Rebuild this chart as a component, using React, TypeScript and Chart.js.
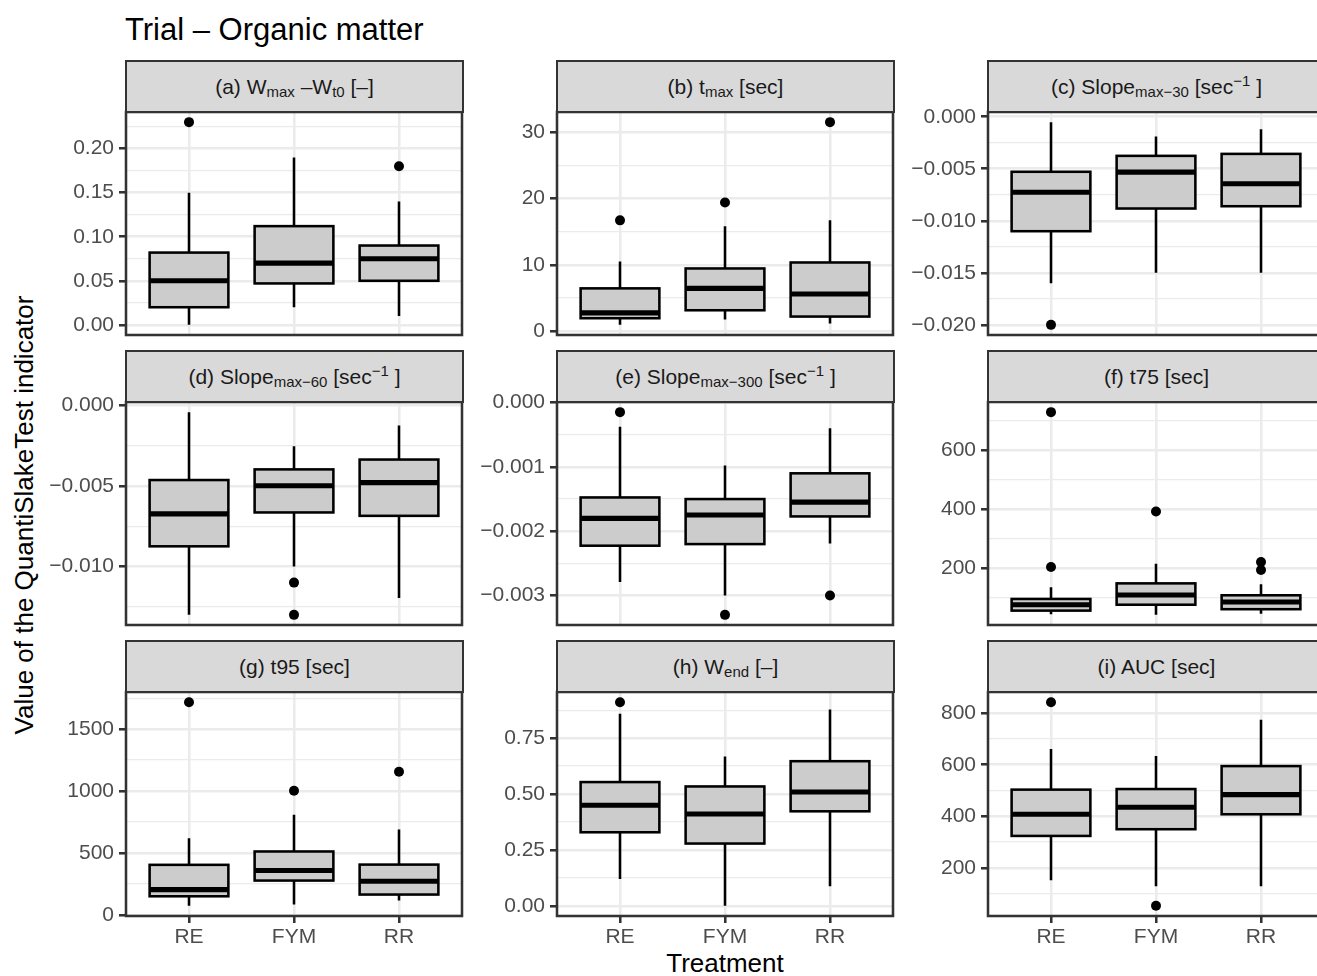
import React, { useEffect, useRef } from 'react';
import { Chart, registerables } from 'chart.js';

Chart.register(...registerables);

const categories = ['RE', 'FYM', 'RR'];

// five-number summaries per treatment: [lower whisker, Q1, median, Q3, upper whisker]
const wmaxStats = [[0.0, 0.02, 0.05, 0.082, 0.15], [0.02, 0.047, 0.07, 0.112, 0.19], [0.01, 0.05, 0.075, 0.09, 0.14]];
const wmaxOutliers = [[0.23], [], [0.18]];
const wmaxTicks = [0, 0.05, 0.1, 0.15, 0.2];

const tmaxStats = [[0.95, 1.95, 2.75, 6.45, 10.5], [1.75, 3.15, 6.45, 9.45, 15.8], [1.15, 2.2, 5.6, 10.35, 16.7]];
const tmaxOutliers = [[16.7], [19.4], [31.5]];
const tmaxTicks = [0, 10, 20, 30];

const slope30Stats = [[-0.016, -0.011, -0.00726, -0.00529, -0.00052], [-0.015, -0.00882, -0.00532, -0.00376, -0.0019], [-0.015, -0.0086, -0.00644, -0.00357, -0.00121]];
const slope30Outliers = [[-0.02], [], []];
const slope30Ticks = [-0.02, -0.015, -0.01, -0.005, 0];

const slope60Stats = [[-0.013, -0.00875, -0.00674, -0.00464, -0.00043], [-0.01, -0.00665, -0.00499, -0.00398, -0.00255], [-0.01195, -0.00686, -0.0048, -0.00337, -0.00126]];
const slope60Outliers = [[], [-0.011, -0.013], []];
const slope60Ticks = [-0.01, -0.005, 0];

const slope300Stats = [[-0.00279, -0.002225, -0.0018, -0.001475, -0.000376], [-0.003, -0.0022, -0.001747, -0.0015, -0.00098], [-0.00219, -0.00177, -0.001547, -0.0011, -0.0004]];
const slope300Outliers = [[-0.000149], [-0.0033], [-0.003]];
const slope300Ticks = [-0.003, -0.002, -0.001, 0];

const t75Stats = [[44, 56, 76, 95.5, 135], [41.6, 76, 109, 148.4, 214.5], [45, 60.8, 85.4, 108, 145]];
const t75Outliers = [[729, 204], [392], [221, 194]];
const t75Ticks = [200, 400, 600];

const t95Stats = [[73, 150, 204, 404, 619], [83, 277, 358, 512, 808], [116, 164, 272, 406, 689]];
const t95Outliers = [[1718], [1002], [1156]];
const t95Ticks = [0, 500, 1000, 1500];

const wendStats = [[0.1205, 0.329, 0.4496, 0.5536, 0.859], [0.0, 0.2786, 0.411, 0.534, 0.668], [0.088, 0.4228, 0.509, 0.647, 0.878]];
const wendOutliers = [[0.911], [], []];
const wendTicks = [0, 0.25, 0.5, 0.75];

const aucStats = [[152, 324, 408, 503.5, 660.6], [129, 350, 435, 505.8, 633.6], [129, 408, 484, 594.8, 774.5]];
const aucOutliers = [[842.6], [53], []];
const aucTicks = [200, 400, 600, 800];

const FONT = '"Liberation Sans", Arial, Helvetica, sans-serif';
const LW = 2.55;
const COL_LEFT = [126, 557, 988];
const ROW_TOP = [112, 402, 692];
const PLOT_W = 337;
const PLOT_H = 224;
const STRIP_H = 51;
const LEFT = 120;
const PAD = 4;
const PAD_TOP = 18;
const BOTTOM = 50;

const subStyle: React.CSSProperties = { fontSize: 15, position: 'relative', top: 3 };
const supStyle: React.CSSProperties = { fontSize: 15, position: 'relative', top: -8 };

type PanelDef = {
  label: React.ReactNode;
  stats: number[][];
  outliers: number[][];
  ticks: number[];
  decimals: number;
};

const panels: PanelDef[] = [
  { label: <>(a) W<span style={subStyle}>max</span> –W<span style={subStyle}>t0</span> [–]</>, stats: wmaxStats, outliers: wmaxOutliers, ticks: wmaxTicks, decimals: 2 },
  { label: <>(b) t<span style={subStyle}>max</span> [sec]</>, stats: tmaxStats, outliers: tmaxOutliers, ticks: tmaxTicks, decimals: 0 },
  { label: <>(c) Slope<span style={subStyle}>max−30</span> [sec<span style={supStyle}>−1</span> ]</>, stats: slope30Stats, outliers: slope30Outliers, ticks: slope30Ticks, decimals: 3 },
  { label: <>(d) Slope<span style={subStyle}>max−60</span> [sec<span style={supStyle}>−1</span> ]</>, stats: slope60Stats, outliers: slope60Outliers, ticks: slope60Ticks, decimals: 3 },
  { label: <>(e) Slope<span style={subStyle}>max−300</span> [sec<span style={supStyle}>−1</span> ]</>, stats: slope300Stats, outliers: slope300Outliers, ticks: slope300Ticks, decimals: 3 },
  { label: <>(f) t75 [sec]</>, stats: t75Stats, outliers: t75Outliers, ticks: t75Ticks, decimals: 0 },
  { label: <>(g) t95 [sec]</>, stats: t95Stats, outliers: t95Outliers, ticks: t95Ticks, decimals: 0 },
  { label: <>(h) W<span style={subStyle}>end</span> [–]</>, stats: wendStats, outliers: wendOutliers, ticks: wendTicks, decimals: 2 },
  { label: <>(i) AUC [sec]</>, stats: aucStats, outliers: aucOutliers, ticks: aucTicks, decimals: 0 },
];

function zeroPad(s: any) {
  s.paddingTop = 0;
  s.paddingBottom = 0;
  s.paddingLeft = 0;
  s.paddingRight = 0;
}

function Panel({ def, row, col }: { def: PanelDef; row: number; col: number }) {
  const ref = useRef<HTMLCanvasElement | null>(null);
  const bottomRow = row === 2;
  const bottom = bottomRow ? BOTTOM : PAD;
  const cw = PLOT_W + LEFT + PAD;
  const ch = PLOT_H + PAD_TOP + bottom;

  useEffect(() => {
    if (!ref.current) return;
    const all: number[] = [];
    def.stats.forEach((s) => all.push(...s));
    def.outliers.forEach((o) => all.push(...o));
    const dmin = Math.min(...all);
    const dmax = Math.max(...all);
    const ext = (dmax - dmin) * 0.05;
    const ymin = dmin - ext;
    const ymax = dmax + ext;
    const majors = def.ticks;
    const step = majors[1] - majors[0];
    const minors: number[] = [];
    for (let i = -1; i < majors.length; i++) {
      const v = majors[0] + (i + 0.5) * step;
      if (v >= ymin && v <= ymax) minors.push(v);
    }
    const isMajor = (v: number) => majors.some((m) => Math.abs(m - v) < step * 1e-6);
    const allTicks = [...majors, ...minors].sort((a, b) => a - b);

    const points: { x: number; y: number }[] = [];
    def.outliers.forEach((arr, i) => arr.forEach((v) => points.push({ x: i + 1, y: v })));

    const boxPlugin = {
      id: 'boxes',
      afterDatasetsDraw(chart: any) {
        const ctx = chart.ctx;
        const xs = chart.scales.x;
        const ys = chart.scales.y;
        ctx.save();
        def.stats.forEach((s, i) => {
          const cx = xs.getPixelForValue(i + 1);
          const hw = xs.getPixelForValue(i + 1 + 0.375) - cx;
          const [lo, q1, med, q3, hi] = s.map((v) => ys.getPixelForValue(v));
          ctx.strokeStyle = '#000000';
          ctx.lineWidth = LW;
          ctx.lineCap = 'butt';
          ctx.lineJoin = 'miter';
          ctx.beginPath();
          ctx.moveTo(cx, q3);
          ctx.lineTo(cx, hi);
          ctx.moveTo(cx, q1);
          ctx.lineTo(cx, lo);
          ctx.stroke();
          ctx.fillStyle = '#CCCCCC';
          ctx.fillRect(cx - hw, q3, 2 * hw, q1 - q3);
          ctx.strokeRect(cx - hw, q3, 2 * hw, q1 - q3);
          ctx.lineWidth = LW * 2;
          ctx.beginPath();
          ctx.moveTo(cx - hw, med);
          ctx.lineTo(cx + hw, med);
          ctx.stroke();
        });
        ctx.restore();
      },
      afterDraw(chart: any) {
        const ctx = chart.ctx;
        const a = chart.chartArea;
        ctx.save();
        ctx.strokeStyle = '#333333';
        ctx.lineWidth = LW;
        ctx.strokeRect(a.left, a.top, a.right - a.left, a.bottom - a.top);
        ctx.restore();
      },
    };

    const fmt = (v: number) => {
      const s = v.toFixed(def.decimals);
      const n = parseFloat(s) === 0 ? (0).toFixed(def.decimals) : s;
      return n.replace('-', '−');
    };

    const chart = new Chart(ref.current, {
      type: 'scatter',
      data: {
        datasets: [
          {
            data: points,
            pointRadius: 5,
            pointHoverRadius: 5,
            pointBackgroundColor: '#000000',
            pointBorderColor: '#000000',
            pointBorderWidth: 0,
            showLine: false,
          },
        ],
      },
      options: {
        responsive: false,
        animation: false,
        events: [],
        layout: { padding: { left: 0, top: PAD_TOP, right: PAD, bottom: 0 } },
        plugins: { legend: { display: false }, tooltip: { enabled: false }, title: { display: false } },
        scales: {
          x: {
            type: 'linear',
            min: 0.4,
            max: 3.6,
            afterBuildTicks: (s: any) => {
              s.ticks = [1, 2, 3].map((v) => ({ value: v }));
            },
            afterFit: (s: any) => {
              s.height = bottom;
              zeroPad(s);
            },
            border: { display: false },
            grid: {
              color: '#EBEBEB',
              lineWidth: LW,
              drawTicks: bottomRow,
              tickColor: '#333333',
              tickLength: 7,
              tickWidth: LW,
            },
            ticks: {
              display: bottomRow,
              autoSkip: false,
              maxRotation: 0,
              padding: 2,
              color: '#4D4D4D',
              font: { family: FONT, size: 21 },
              callback: (v: any) => categories[Math.round(Number(v)) - 1] ?? '',
            },
          },
          y: {
            type: 'linear',
            min: ymin,
            max: ymax,
            afterBuildTicks: (s: any) => {
              s.ticks = allTicks.map((v) => ({ value: v }));
            },
            afterFit: (s: any) => {
              s.width = LEFT;
              zeroPad(s);
            },
            border: { display: false },
            grid: {
              color: '#EBEBEB',
              lineWidth: (c: any) => (c.tick && isMajor(c.tick.value) ? LW : LW / 2),
              tickColor: (c: any) => (c.tick && isMajor(c.tick.value) ? '#333333' : 'rgba(0,0,0,0)'),
              tickLength: 7,
              tickWidth: LW,
            },
            ticks: {
              autoSkip: false,
              padding: 5,
              color: '#4D4D4D',
              font: { family: FONT, size: 21 },
              callback: (v: any) => (isMajor(Number(v)) ? fmt(Number(v)) : ''),
            },
          },
        },
      },
      plugins: [boxPlugin],
    } as any);
    return () => chart.destroy();
  }, []);

  const left = COL_LEFT[col];
  const top = ROW_TOP[row];
  return (
    <>
      <canvas
        ref={ref}
        width={cw}
        height={ch}
        style={{ position: 'absolute', left: left - LEFT, top: top - PAD_TOP, width: cw, height: ch }}
      />
      <div
        style={{
          position: 'absolute',
          left: left - 1,
          top: top - STRIP_H - 1,
          width: PLOT_W + 2,
          height: STRIP_H + 2,
          boxSizing: 'border-box',
          border: '2px solid #333333',
          background: '#D9D9D9',
          color: '#1A1A1A',
          fontFamily: FONT,
          fontSize: 21,
          display: 'flex',
          alignItems: 'center',
          justifyContent: 'center',
          whiteSpace: 'nowrap',
          lineHeight: 1,
        }}
      >
        <span>{def.label}</span>
      </div>
    </>
  );
}

export default function App() {
  return (
    <div
      style={{
        position: 'absolute',
        left: 0,
        top: 0,
        width: 1317,
        height: 976,
        overflow: 'hidden',
        background: '#FFFFFF',
        fontFamily: FONT,
      }}
    >
      <div style={{ position: 'absolute', left: 125, top: 13.5, fontSize: 31, lineHeight: '31px', color: '#000', whiteSpace: 'nowrap' }}>
        Trial – Organic matter
      </div>
      <div
        style={{
          position: 'absolute',
          left: 24,
          top: 515,
          fontSize: 26,
          lineHeight: '26px',
          color: '#000',
          whiteSpace: 'nowrap',
          transform: 'translate(-50%, -50%) rotate(-90deg)',
        }}
      >
        Value of the QuantiSlakeTest indicator
      </div>
      <div
        style={{
          position: 'absolute',
          left: 725,
          top: 950,
          fontSize: 26,
          lineHeight: '26px',
          color: '#000',
          whiteSpace: 'nowrap',
          transform: 'translateX(-50%)',
        }}
      >
        Treatment
      </div>
      {panels.map((p, i) => (
        <Panel key={i} def={p} row={Math.floor(i / 3)} col={i % 3} />
      ))}
    </div>
  );
}
